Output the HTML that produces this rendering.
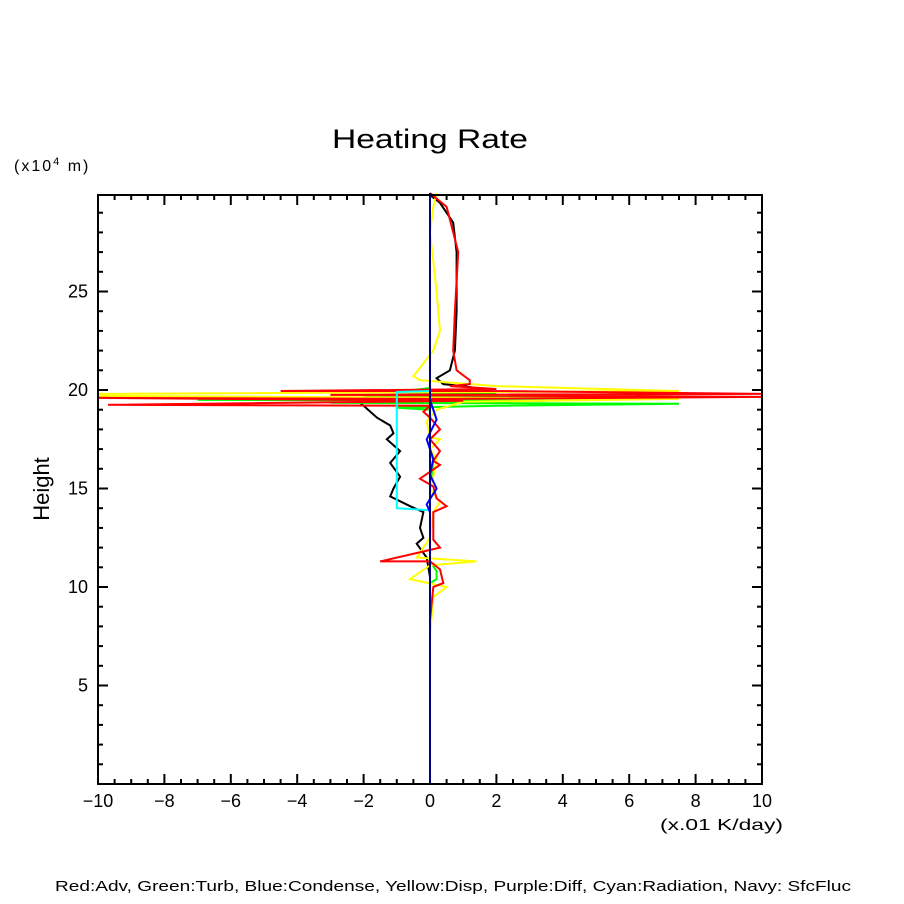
<!DOCTYPE html>
<html><head><meta charset="utf-8"><style>
html,body{margin:0;padding:0;background:#fff}
svg{display:block}
text{font-family:"Liberation Sans","DejaVu Sans",sans-serif;fill:#000}
</style></head><body>
<svg id="chart" width="904" height="904" viewBox="0 0 904 904" xmlns="http://www.w3.org/2000/svg">
<rect width="904" height="904" fill="#fff"/>
<text x="332" y="148" font-size="27" textLength="196" lengthAdjust="spacingAndGlyphs">Heating Rate</text>
<text x="14" y="171" font-size="16" letter-spacing="2">(x10<tspan font-size="11" dy="-6">4</tspan><tspan dy="6"> m)</tspan></text>
<text transform="translate(49,489) rotate(-90)" font-size="22" text-anchor="middle">Height</text>
<text x="660" y="830" font-size="16" textLength="123" lengthAdjust="spacingAndGlyphs">(x.01 K/day)</text>
<text x="55" y="891" font-size="15" textLength="796" lengthAdjust="spacingAndGlyphs">Red:Adv, Green:Turb, Blue:Condense, Yellow:Disp, Purple:Diff, Cyan:Radiation, Navy: SfcFluc</text>
<g id="ticks"></g>
<g id="series"></g>
<rect x="98" y="195" width="664" height="589" fill="none" stroke="#000" stroke-width="2"/>
</svg>
<script>
const xTicks=[-10,-8,-6,-4,-2,0,2,4,6,8,10];
const yTicks=[5,10,15,20,25];
const advRed=[[0,30],[0.5,29.3],[0.7,28],[0.85,27],[0.75,24],[0.7,22],[0.8,21],[1.2,20.5],[1.2,20.3],[0.6,20.2],[2,20.05],[-4.5,19.95],[2,19.95],[10,19.8],[-3,19.75],[10,19.65],[0.5,19.55],[-10,19.6],[1,19.45],[-9.7,19.25],[0,19.2],[-0.2,18.9],[0,18.6],[0.3,18],[0,17.5],[0.3,16.9],[0.1,16.4],[0.3,16.2],[-0.3,15.5],[0.1,15.1],[0.2,14.5],[0.5,14.1],[0.1,13.8],[0.1,12.4],[0.3,12],[-1.5,11.3],[0,11.3],[0.3,10.9],[0.4,10.2],[0.1,10],[0,8.3]];
const turbGreen=[[0,20.1],[-1,19.9],[2,19.85],[-2,19.7],[7.5,19.6],[-7,19.5],[3.5,19.45],[-3,19.35],[7.5,19.3],[2,19.2],[-1,19.1],[0,19],[0,17],[0.1,16.4],[0,15],[0,11.3],[0.2,10.8],[0.2,10.4],[0,10.2]];
const condBlue=[[0,19.5],[0.2,18.5],[-0.1,17.5],[0.1,16.5],[0,15.7],[0.2,15],[-0.1,14.2],[0,13.8]];
const dispYellow=[[0.2,30],[0.1,29.3],[0,28],[0.2,25],[0.3,23],[0.1,22],[-0.5,20.7],[-0.3,20.5],[2,20.2],[7.5,19.95],[-10,19.8],[-10,19.7],[7.5,19.55],[1,19.4],[0.2,19],[-0.1,18.4],[0,17.6],[0.3,17.5],[0,17],[0.2,16.5],[0.1,15.6],[0,15],[0.3,14.3],[0.1,13.8],[0,12.5],[-0.2,12],[-0.4,11.5],[1.4,11.3],[0,11.1],[-0.6,10.4],[0.5,10],[0.1,9.5],[0,7.5]];
const totalBlack=[[0,29.9],[0.3,29.5],[0.7,28.5],[0.8,27],[0.8,24],[0.75,22],[0.6,21],[0.2,20.6],[0.4,20.3],[1,20.2],[1.8,20],[-2,19.9],[0.5,19.85],[-2.2,19.5],[-2,19.2],[-1.6,18.6],[-1.2,18.2],[-1.1,17.8],[-1.3,17.5],[-0.9,16.9],[-1.2,16.3],[-0.9,15.6],[-1.1,15],[-1.2,14.6],[-0.6,14.1],[-0.2,13.8],[-0.3,13],[-0.2,12.5],[-0.4,12.2],[-0.1,11.5],[0,10.5],[0,8.5]];
const radCyan=[[0,19.95],[-1,19.9],[-1,14],[0,13.9]];
const navyLine=[[0,0],[0,30]];
const X=v=>98+(v+10)*33.2, Y=h=>784-h*19.7;
const NS="http://www.w3.org/2000/svg";
const tg=document.getElementById('ticks');
function ln(x1,y1,x2,y2,g){const l=document.createElementNS(NS,'line');l.setAttribute('x1',x1);l.setAttribute('y1',y1);l.setAttribute('x2',x2);l.setAttribute('y2',y2);l.setAttribute('stroke','#000');l.setAttribute('stroke-width','2');


g.appendChild(l);}
for(let v=-10;v<=10;v+=0.5){const maj=Number.isInteger(v/2);const L=maj?10:5;ln(X(v),784,X(v),784-L,tg);ln(X(v),195,X(v),195+L,tg);}
for(let h=1;h<30;h++){const maj=h%5===0;const L=maj?10:5;ln(98,Y(h),98+L,Y(h),tg);ln(762,Y(h),762-L,Y(h),tg);}
xTicks.forEach(v=>{const t=document.createElementNS(NS,'text');t.setAttribute('x',X(v));t.setAttribute('y',807);t.setAttribute('font-size','18');t.setAttribute('text-anchor','middle');t.textContent=(v<0?'\u2212'+(-v):v);


tg.appendChild(t);});
yTicks.forEach(h=>{const t=document.createElementNS(NS,'text');t.setAttribute('x',88);t.setAttribute('y',Y(h)+6);t.setAttribute('font-size','18');t.setAttribute('text-anchor','end');t.textContent=h;


tg.appendChild(t);});
const sg=document.getElementById('series');
function line(pts,col,name){const p=document.createElementNS(NS,'polyline');p.setAttribute('points',pts.map(q=>X(q[0]).toFixed(1)+','+Y(q[1]).toFixed(1)).join(' '));p.setAttribute('fill','none');p.setAttribute('stroke',col);p.setAttribute('stroke-width','2');


sg.appendChild(p);}
line(totalBlack,'#000','total-line');
line(turbGreen,'#00ff00','turb-line');
line(dispYellow,'#ffff00','disp-line');
line(advRed,'#ff0000','adv-line');
line(radCyan,'#00ffff','radiation-line');
line(condBlue,'#0000ff','condense-line');
line(navyLine,'#000080','sfcfluc-line');
</script>
</body></html>
